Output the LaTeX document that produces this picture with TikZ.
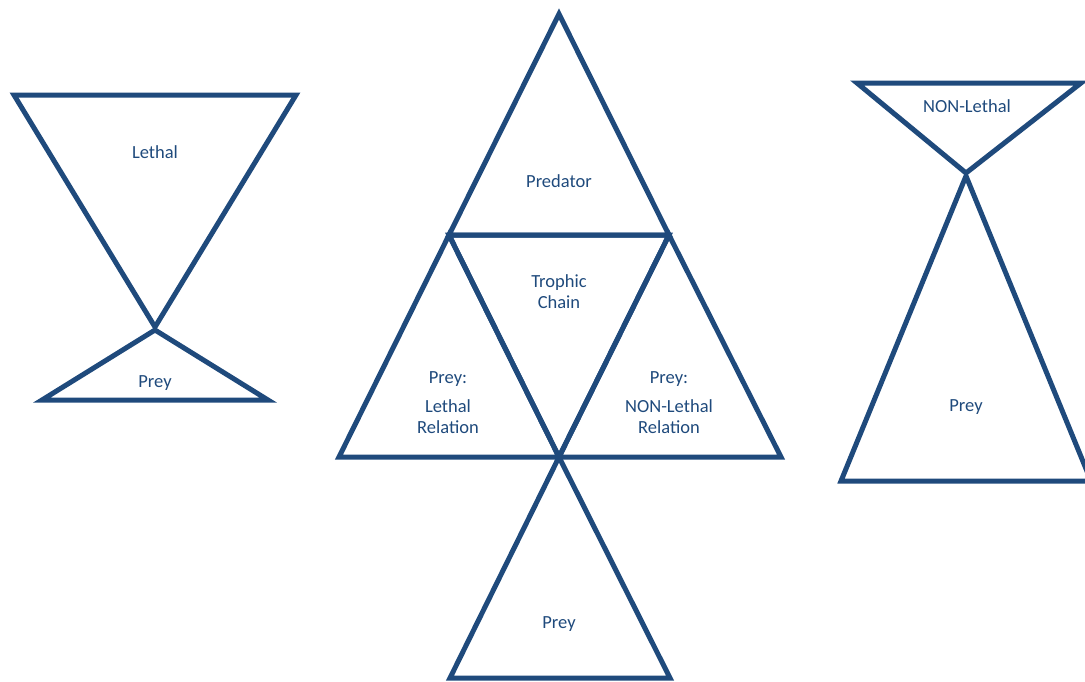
\documentclass[tikz,border=0pt]{standalone}
\usepackage{fontspec}
\setmainfont{Carlito}
\definecolor{navy}{HTML}{1F4A7C}
\begin{document}
\begin{tikzpicture}[x=1pt,y=-1pt,
  tri/.style={draw=navy,line width=5pt,line join=miter},
  lbl/.style={text=navy,font=\fontsize{18.5}{21}\selectfont,align=center,inner sep=0pt}]
\useasboundingbox (0,0) rectangle (1085,681);
\clip (0,0) rectangle (1085,681);
% left group
\draw[tri] (14,95) -- (296,95) -- (155,327) -- cycle;
\draw[tri] (155,330) -- (268,400) -- (42,400) -- cycle;
\node[lbl] (lethal) at (155,152) {Lethal};
\node[lbl] (preyL) at (155,383) {Prey};
% centre group
\draw[tri] (559,14) -- (669,235) -- (449,235) -- cycle;
\draw[tri] (449,235) -- (669,235) -- (559,457) -- cycle;
\draw[tri] (449,235) -- (559,457) -- (339,457) -- cycle;
\draw[tri] (669,235) -- (781,457) -- (559,457) -- cycle;
\draw[tri] (559,457) -- (670,678) -- (450,678) -- cycle;
\node[lbl] (pred) at (559,181) {Predator};
\node[lbl] (troph) at (559,292) {Trophic\\Chain};
\node[lbl] (preyA) at (448,379) {Prey:};
\node[lbl] (lethrel) at (448,417) {Lethal\\Relation};
\node[lbl] (preyB) at (669,379) {Prey:};
\node[lbl] (nonrel) at (669,417) {NON-Lethal\\Relation};
\node[lbl] (preyC) at (559,624) {Prey};
% right group
\draw[tri] (857,83) -- (1081,83) -- (966,173) -- cycle;
\draw[tri] (966,176) -- (1091,481) -- (841,481) -- cycle;
\node[lbl] (nonleth) at (967,106) {NON-Lethal};
\node[lbl] (preyR) at (966,407) {Prey};
\end{tikzpicture}
\end{document}
